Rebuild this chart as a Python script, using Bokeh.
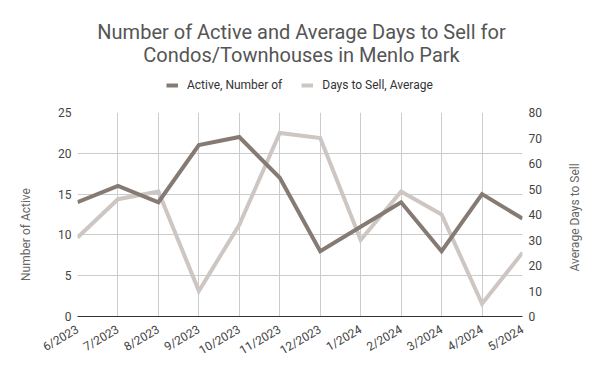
import numpy as np
from bokeh.plotting import figure
from bokeh.layouts import column, row
from bokeh.models import (Range1d, LinearAxis, FixedTicker, Legend, LegendItem, Label)
from bokeh.embed import file_html
from bokeh.resources import INLINE

months = ["6/2023", "7/2023", "8/2023", "9/2023", "10/2023", "11/2023", "12/2023",
          "1/2024", "2/2024", "3/2024", "4/2024", "5/2024"]
active = [14, 16, 14, 21, 22, 17, 8, 11, 14, 8, 15, 12]
days = [31, 46, 49, 10, 36, 72, 70, 30, 49, 40, 5, 25]
left_ticks = [0, 5, 10, 15, 20, 25]
right_ticks = [0, 10, 20, 30, 40, 50, 60, 70, 80]
title_lines = ["Number of Active and Average Days to Sell for",
               "Condos/Townhouses in Menlo Park"]
series_names = ["Active, Number of", "Days to Sell, Average"]
axis_titles = ["Number of Active", "Average Days to Sell"]

FONT = "Roboto"
ACTIVE_COLOR = "#857b74"
DAYS_COLOR = "#cdc6c2"
TICK_COLOR = "#444444"
LABEL_COLOR = "#666666"
TITLE_COLOR = "#555555"

# layout (px)
W = 584
HEAD_H = 104                 # header band (title + legend)
MAIN_H = 262                 # chart band
LS, RS = 40, 36              # side strips holding the axis titles
MAIN_W = W - LS - RS
BL, BR, BT, BB = 37, 26, 8, 50

x = list(range(len(months)))


def bare(width, height, **kw):
    f = figure(width=width, height=height, output_backend="svg", toolbar_location=None,
               title=None, x_axis_type=None, y_axis_type=None, sizing_mode="fixed",
               min_border=0, min_border_left=0, min_border_right=0,
               min_border_top=0, min_border_bottom=0, **kw)
    f.outline_line_color = None
    f.background_fill_color = "white"
    f.border_fill_color = "white"
    return f


# ---------------- header: title and legend ----------------
head = bare(W, HEAD_H, x_range=Range1d(0, len(months) - 1), y_range=Range1d(-2, -1))
h_active = head.line(x, active, line_color=ACTIVE_COLOR, line_width=4)
h_days = head.line(x, days, line_color=DAYS_COLOR, line_width=4)
for line, cy in zip(title_lines, [31.5, 54.5]):
    head.add_layout(Label(x=301, y=HEAD_H - cy, x_units="screen", y_units="screen",
                          text=line, text_align="center", text_baseline="middle",
                          text_font=FONT, text_font_size="20px", text_color=TITLE_COLOR))
legend = Legend(items=[LegendItem(label=series_names[0], renderers=[h_active]),
                       LegendItem(label=series_names[1], renderers=[h_days])],
                orientation="horizontal", location=(166, HEAD_H - 93),
                label_text_font=FONT, label_text_font_size="12px", label_text_color="#333333",
                glyph_width=12, glyph_height=16, label_height=16, spacing=19, label_standoff=9,
                border_line_color=None, background_fill_alpha=0, padding=0, margin=0)
head.add_layout(legend, "center")

# ---------------- main chart ----------------
p = figure(width=MAIN_W, height=MAIN_H, output_backend="svg", toolbar_location=None,
           x_range=Range1d(0, len(months) - 1), y_range=Range1d(0, left_ticks[-1]),
           title=None, sizing_mode="fixed",
           min_border_left=BL, min_border_right=BR, min_border_bottom=BB, min_border_top=BT)
p.extra_y_ranges = {"days": Range1d(0, right_ticks[-1])}
p.outline_line_color = None
p.background_fill_color = "white"

p.line(x, days, y_range_name="days", line_color=DAYS_COLOR, line_width=4, line_join="miter")
p.line(x, active, line_color=ACTIVE_COLOR, line_width=4, line_join="miter")

xa = p.xaxis[0]
xa.ticker = FixedTicker(ticks=x)
xa.major_label_overrides = {i: m for i, m in enumerate(months)}
xa.major_label_orientation = np.pi / 6
xa.major_label_text_font = FONT
xa.major_label_text_font_size = "12px"
xa.major_label_text_color = TICK_COLOR
xa.major_label_standoff = 12
xa.axis_line_color = "#333333"
xa.axis_line_width = 1
xa.major_tick_line_color = None
xa.minor_tick_line_color = None
xa.major_tick_out = 0
xa.major_tick_in = 0

ya = p.yaxis[0]
ya.ticker = FixedTicker(ticks=left_ticks)
ya.major_label_text_font = FONT
ya.major_label_text_font_size = "12px"
ya.major_label_text_color = TICK_COLOR
ya.major_label_standoff = 6
ya.axis_line_color = None
ya.major_tick_line_color = None
ya.minor_tick_line_color = None
ya.major_tick_out = 0
ya.major_tick_in = 0

ra = LinearAxis(y_range_name="days", ticker=FixedTicker(ticks=right_ticks))
ra.major_label_text_font = FONT
ra.major_label_text_font_size = "12px"
ra.major_label_text_color = TICK_COLOR
ra.major_label_standoff = 6
ra.axis_line_color = None
ra.major_tick_line_color = None
ra.minor_tick_line_color = None
ra.major_tick_out = 0
ra.major_tick_in = 0
p.add_layout(ra, "right")

p.xgrid.ticker = FixedTicker(ticks=x)
p.xgrid.grid_line_color = "#cccccc"
p.ygrid.ticker = FixedTicker(ticks=left_ticks)
p.ygrid.grid_line_color = "#cccccc"

# ---------------- side strips: axis titles (read bottom-to-top) ----------------
left_strip = bare(LS, MAIN_H, x_range=Range1d(0, 1), y_range=Range1d(0, 1))
left_strip.add_layout(Label(x=25, y=MAIN_H - (228 - HEAD_H) - 56, x_units="screen", y_units="screen",
                            text=axis_titles[0], angle=np.pi / 2,
                            text_align="center", text_baseline="middle",
                            text_font=FONT, text_font_size="12px", text_color=LABEL_COLOR))
right_strip = bare(RS, MAIN_H, x_range=Range1d(0, 1), y_range=Range1d(0, 1))
right_strip.add_layout(Label(x=26, y=MAIN_H - (219 - HEAD_H) - 48, x_units="screen", y_units="screen",
                             text=axis_titles[1], angle=np.pi / 2,
                             text_align="center", text_baseline="middle",
                             text_font=FONT, text_font_size="12px", text_color=LABEL_COLOR))

page = column(head, row(left_strip, p, right_strip, spacing=0), spacing=0)

open("out.html", "w").write(file_html(page, INLINE))
